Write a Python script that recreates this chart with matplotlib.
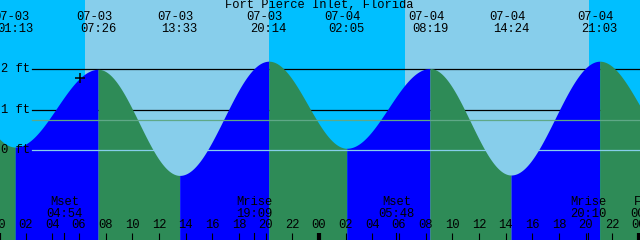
import numpy as np
import matplotlib
matplotlib.use("Agg")
import matplotlib.pyplot as plt

# ---------------- data ----------------
title = "Fort Pierce Inlet, Florida"
tide_dates = ['07-02', '07-03', '07-03', '07-03', '07-03', '07-04', '07-04', '07-04', '07-04', '07-05']
tide_times = ['19:22', '01:13', '07:26', '13:33', '20:14', '02:05', '08:19', '14:24', '21:03', '03:00']
tide_heights = [2.15, 0.08, 2.00, -0.62, 2.20, 0.05, 2.02, -0.61, 2.20, 0.05]
shown_extremes = [1, 2, 3, 4, 5, 6, 7, 8]   # indices labelled at top

sun_dates = ['07-03', '07-04']
sunrise_times = ['06:27', '06:27']
sunset_times = ['20:15', '20:15']

moon_labels = ['Mset', 'Mrise', 'Mset', 'Mrise', 'Full']
moon_dates = ['07-03', '07-03', '07-04', '07-04', '07-05']
moon_times = ['04:54', '19:09', '05:48', '20:10', '00:40']

level_lines = [2, 1]          # black grid levels (ft)
level_labels = ['2 ft', '1 ft', '0 ft']
mean_level = 0.74             # green reference line (ft)
now_time = ('07-03', '06:05')
now_height = 1.78

hour_labels = ['%02d' % (h % 24) for h in range(0, 49, 2)]
hour_values = list(range(0, 49, 2))

# ---------------- helpers ----------------
day_offset = {'07-02': -24, '07-03': 0, '07-04': 24, '07-05': 48}


def to_h(d, t):
    hh, mm = t.split(':')
    return day_offset[d] + int(hh) + int(mm) / 60.0


PX_PER_H = 13.3333
X0 = -1.0          # pixel of 07-03 00:00
Y0 = 150.3         # pixel of 0 ft
PX_PER_FT = 40.5


def px2h(x):
    return (x - X0) / PX_PER_H


def px2ft(y):
    return (Y0 - y) / PX_PER_FT


W, H = 640, 240
fig = plt.figure(figsize=(6.4, 2.4), dpi=100)
ax = fig.add_axes([0, 0, 1, 1])
ax.set_xlim(px2h(0), px2h(W))
ax.set_ylim(px2ft(H), px2ft(0))
ax.axis('off')

NIGHT = '#00BFFF'
DAY = '#87CEEB'
RISE = '#0000FF'
FALL = '#2E8B57'
MONO = ['Liberation Mono', 'DejaVu Sans Mono']
FS = 8.7

# sky
ax.axvspan(px2h(0), px2h(W), color=NIGHT, zorder=0, lw=0)
for d, sr, ss in zip(sun_dates, sunrise_times, sunset_times):
    ax.axvspan(to_h(d, sr), to_h(d, ss), color=DAY, zorder=0.5, lw=0)

# level lines behind the water
for lv in level_lines:
    ax.plot([px2h(32), px2h(W)], [lv, lv], color='black', lw=0.9, zorder=1)

# tide curve (cosine between extremes)
th = [to_h(d, t) for d, t in zip(tide_dates, tide_times)]
ybot = px2ft(H)
for i in range(len(th) - 1):
    t0, t1 = th[i], th[i + 1]
    h0, h1 = tide_heights[i], tide_heights[i + 1]
    t = np.linspace(t0, t1, 200)
    y = h1 + (h0 - h1) * (1 + np.cos(np.pi * (t - t0) / (t1 - t0))) / 2
    col = RISE if h1 > h0 else FALL
    ax.fill_between(t, y, ybot, color=col, lw=0, zorder=2)

# lines over the water
ax.plot([px2h(32), px2h(W)], [mean_level, mean_level], color='#5FA887', lw=0.9, zorder=3)
ax.plot([px2h(32), px2h(W)], [0, 0], color='#87CEEB', lw=0.9, zorder=3)

# level labels
for lab, lv in zip(level_labels, [2, 1, 0]):
    ax.text(px2h(1), lv, lab, family=MONO, fontsize=FS, ha='left', va='center', zorder=5)

# now marker
ax.plot([to_h(*now_time)], [now_height], marker='+', color='black', ms=6.5, mew=1.1, zorder=5)

# title
ax.text(px2h(319), px2ft(5.5), title, family=MONO, fontsize=FS, ha='center', va='center', zorder=5)

# extreme labels
for i in shown_extremes:
    x = th[i]
    ax.text(x - 4 / PX_PER_H, px2ft(17.5), tide_dates[i], family=MONO, fontsize=FS,
            ha='center', va='center', zorder=5)
    ax.text(x, px2ft(29), tide_times[i], family=MONO, fontsize=FS,
            ha='center', va='center', zorder=5)

# moon labels
for lab, d, t in zip(moon_labels, moon_dates, moon_times):
    x = to_h(d, t)
    ax.text(x, px2ft(202), lab, family=MONO, fontsize=FS, ha='center', va='center', zorder=5)
    ax.text(x, px2ft(214), t, family=MONO, fontsize=FS, ha='center', va='center', zorder=5)
    ax.plot([x, x], [px2ft(232.5), px2ft(H)], color='black', lw=0.8, zorder=4)

# hour ticks and labels
for hv, hl in zip(hour_values, hour_labels):
    ax.text(hv, px2ft(225.5), hl, family=MONO, fontsize=FS, ha='center', va='center', zorder=5)
    lw = 3.0 if hv % 24 == 0 else 0.8
    ax.plot([hv, hv], [px2ft(232.5), px2ft(H)], color='black', lw=lw, zorder=4,
            solid_capstyle='butt')

fig.savefig('out.png', dpi=100)
